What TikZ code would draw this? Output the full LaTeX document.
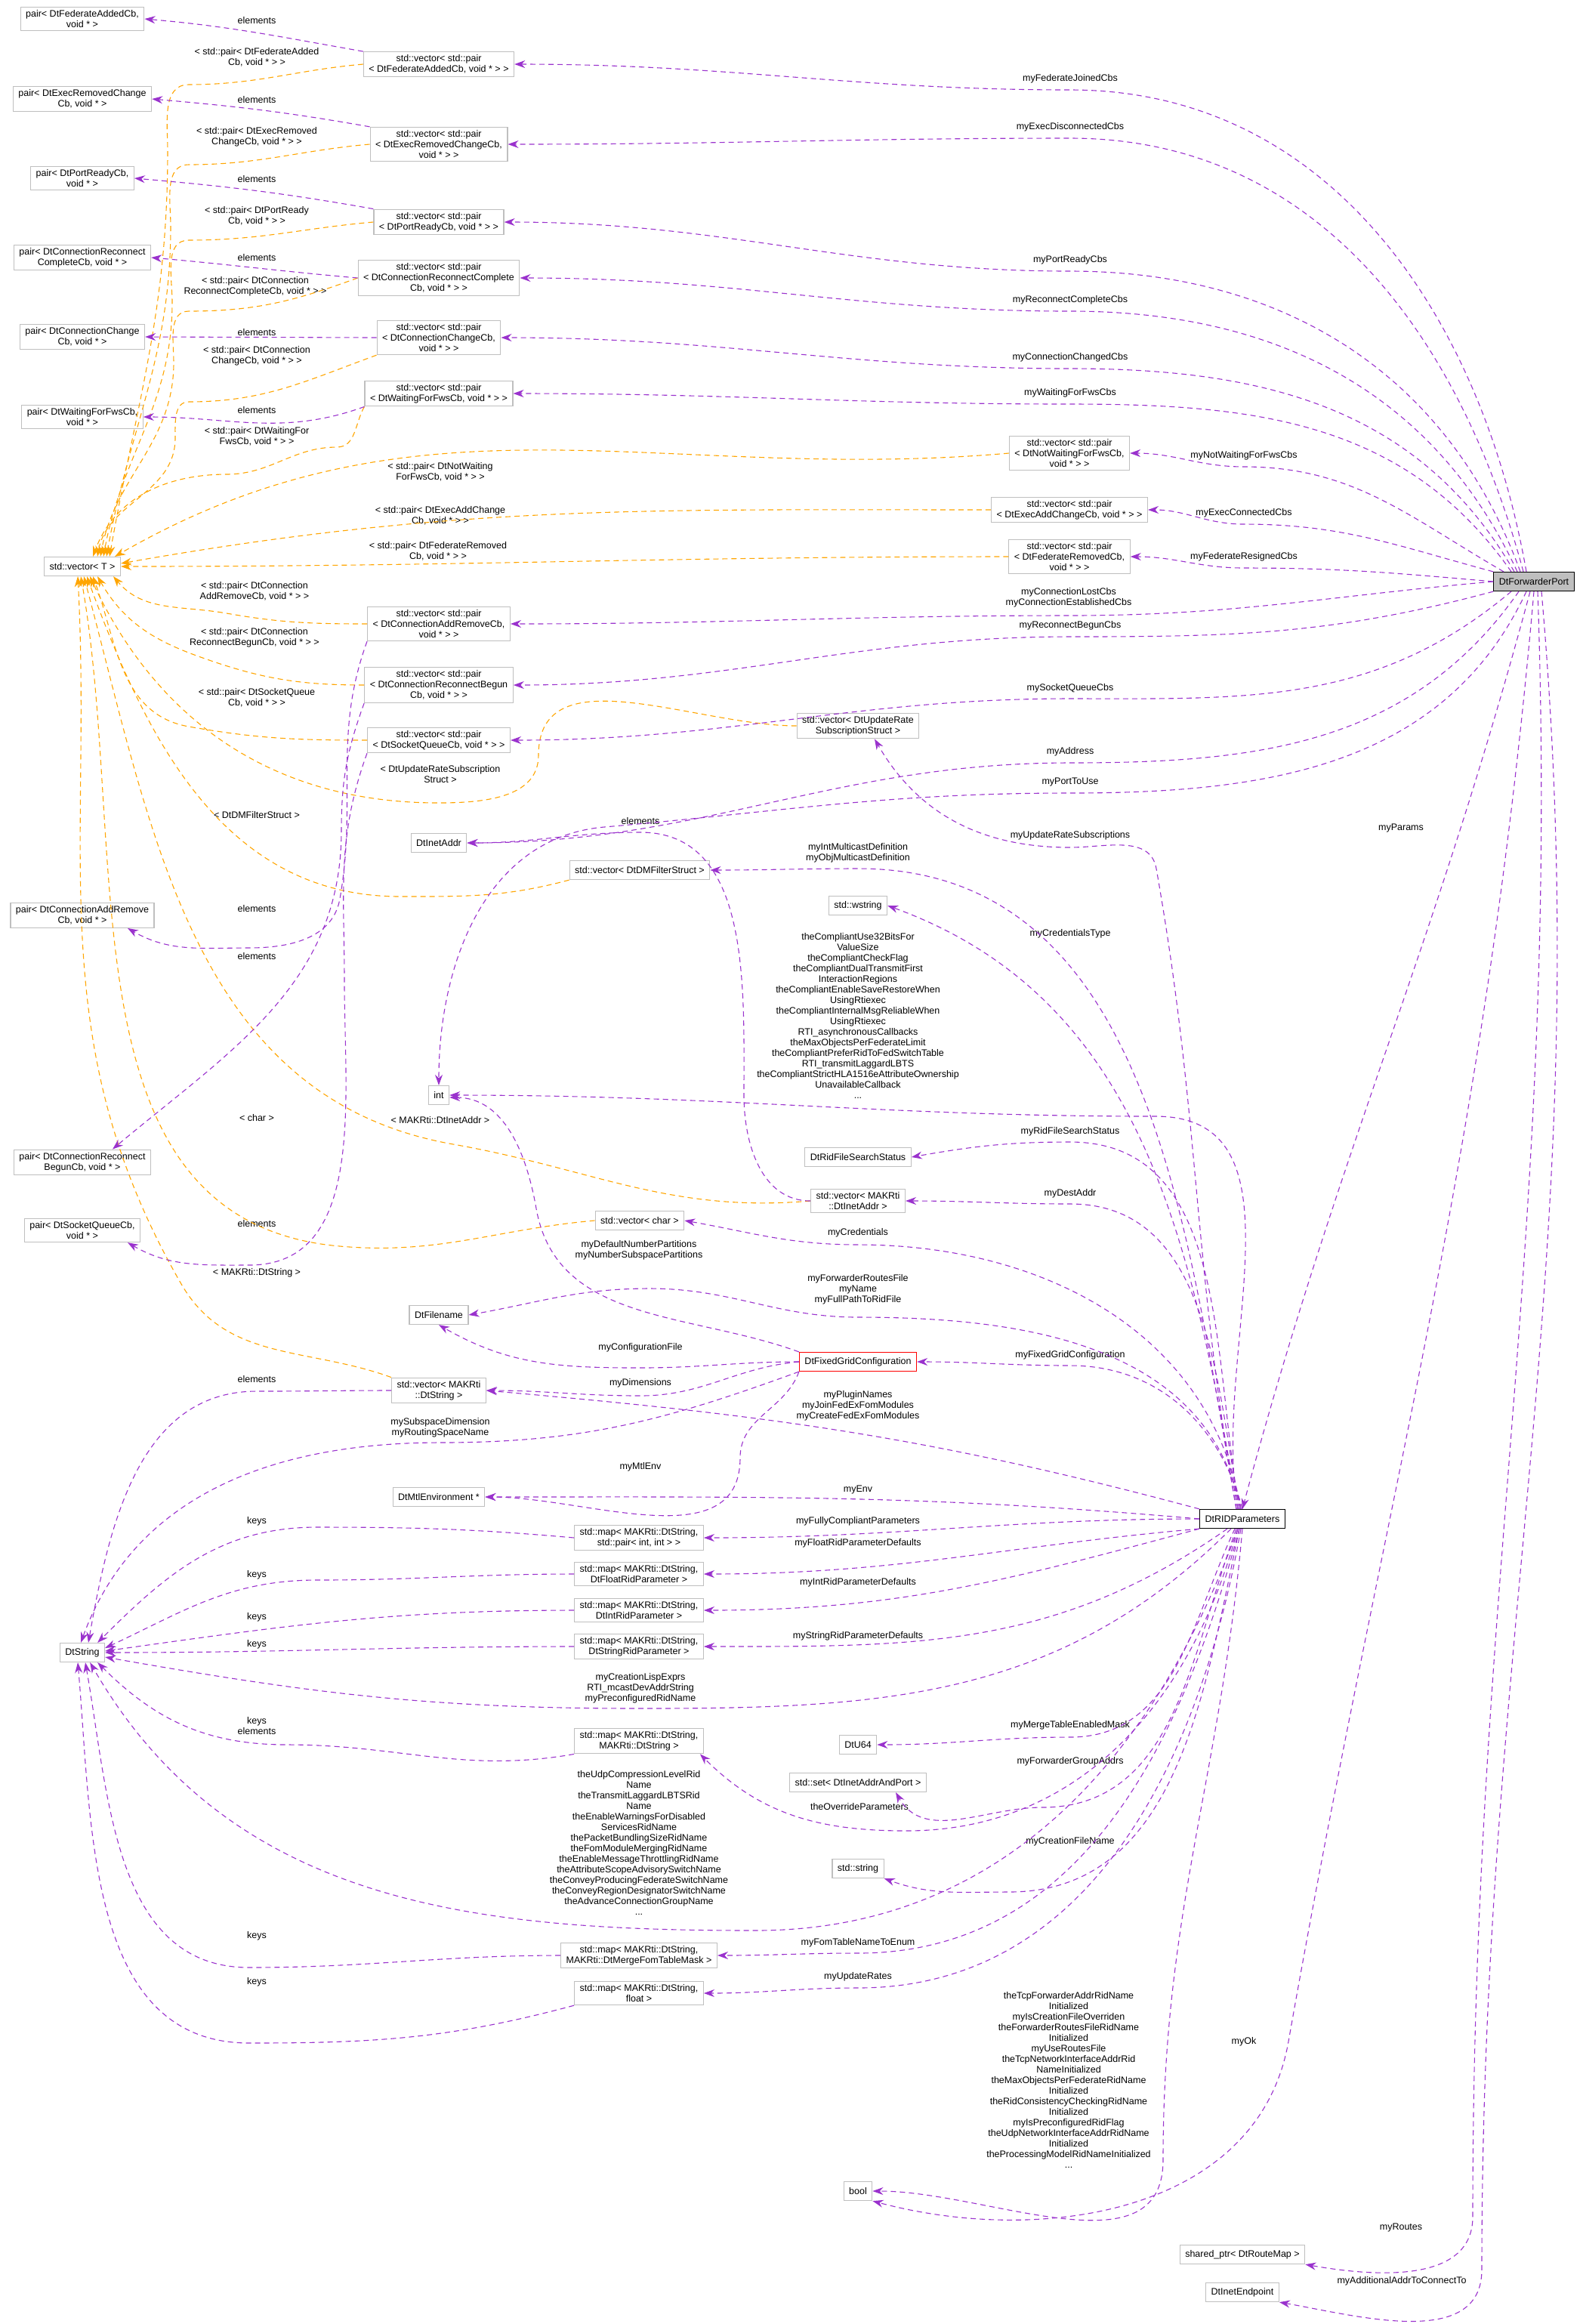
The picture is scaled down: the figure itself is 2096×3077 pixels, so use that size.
\documentclass[tikz,border=0pt]{standalone}
\usepackage{fontspec}
\setmainfont{Liberation Sans}
\usetikzlibrary{arrows.meta,calc}
\definecolor{purp}{HTML}{9A32CD}
\definecolor{orng}{HTML}{FFA500}
\definecolor{bgray}{HTML}{BFBFBF}
\newcommand\fs{\fontsize{3.125}{3.5}\selectfont}
\begin{document}
\begin{tikzpicture}[x=0.25pt,y=-0.25pt,
 box/.style={draw=bgray,fill=white,font=\fs,align=center,inner xsep=1.75pt,inner ysep=1pt,minimum height=6.25pt,line width=0.3pt},
 lbl/.style={font=\fs,align=center,inner sep=0.25pt},
 pe/.style={draw=purp,line width=0.275pt,dash pattern=on 1.75pt off 1.25pt,-{Stealth[length=3.5pt,width=2.5pt,fill=purp]}},
 oe/.style={draw=orng,line width=0.275pt,dash pattern=on 1.75pt off 1.25pt,-{Stealth[length=3.5pt,width=2.5pt,fill=orng]}}]
\useasboundingbox (0,0) rectangle (2096,3077);
% ---------- nodes
\node[box] (pFedAdded) at (109,25) {pair< DtFederateAddedCb,\\void * >};
\node[box] (vFedAdded) at (581,85) {std::vector< std::pair\\< DtFederateAddedCb, void * > >};
\node[box] (pExecRem) at (109,131) {pair< DtExecRemovedChange\\Cb, void * >};
\node[box] (vExecRem) at (581,191) {std::vector< std::pair\\< DtExecRemovedChangeCb,\\void * > >};
\node[box] (pPortReady) at (109,236) {pair< DtPortReadyCb,\\void * >};
\node[box] (vPortReady) at (581,294) {std::vector< std::pair\\< DtPortReadyCb, void * > >};
\node[box] (pConnRecComp) at (109,341) {pair< DtConnectionReconnect\\CompleteCb, void * >};
\node[box] (vConnRecComp) at (581,368) {std::vector< std::pair\\< DtConnectionReconnectComplete\\Cb, void * > >};
\node[box] (pConnChange) at (109,446) {pair< DtConnectionChange\\Cb, void * >};
\node[box] (vConnChange) at (581,447) {std::vector< std::pair\\< DtConnectionChangeCb,\\void * > >};
\node[box] (pWaiting) at (109,552) {pair< DtWaitingForFwsCb,\\void * >};
\node[box] (vWaiting) at (581,521) {std::vector< std::pair\\< DtWaitingForFwsCb, void * > >};
\node[box] (vNotWaiting) at (1416,600) {std::vector< std::pair\\< DtNotWaitingForFwsCb,\\void * > >};
\node[box] (vExecAdd) at (1416,675) {std::vector< std::pair\\< DtExecAddChangeCb, void * > >};
\node[box] (vFedRem) at (1416,737) {std::vector< std::pair\\< DtFederateRemovedCb,\\void * > >};
\node[box,draw=black,fill=bgray] (F) at (2031,770) {DtForwarderPort};
\node[box] (vectorT) at (109,750) {std::vector< T >};
\node[box] (vConnAddRem) at (581,826) {std::vector< std::pair\\< DtConnectionAddRemoveCb,\\void * > >};
\node[box] (vConnRecBegun) at (581,907) {std::vector< std::pair\\< DtConnectionReconnectBegun\\Cb, void * > >};
\node[box] (vSocketQ) at (581,980) {std::vector< std::pair\\< DtSocketQueueCb, void * > >};
\node[box] (vUpdateRate) at (1136,961) {std::vector< DtUpdateRate\\SubscriptionStruct >};
\node[box] (DtInetAddr) at (581,1116) {DtInetAddr};
\node[box] (vDMFilter) at (847,1152) {std::vector< DtDMFilterStruct >};
\node[box] (wstring) at (1136,1199) {std::wstring};
\node[box] (pConnAddRem) at (109,1212) {pair< DtConnectionAddRemove\\Cb, void * >};
\node[box] (int) at (581,1450) {int};
\node[box] (RidFileSearch) at (1136,1532) {DtRidFileSearchStatus};
\node[box] (vInetAddr) at (1136,1590) {std::vector< MAKRti\\::DtInetAddr >};
\node[box] (pConnRecBegun) at (109,1539) {pair< DtConnectionReconnect\\BegunCb, void * >};
\node[box] (vChar) at (847,1616) {std::vector< char >};
\node[box] (pSocketQ) at (109,1629) {pair< DtSocketQueueCb,\\void * >};
\node[box] (DtFilename) at (581,1741) {DtFilename};
\node[box,draw=red] (G) at (1136,1803) {DtFixedGridConfiguration};
\node[box] (vDtString) at (581,1841) {std::vector< MAKRti\\::DtString >};
\node[box] (DtMtlEnv) at (581,1982) {DtMtlEnvironment *};
\node[box] (map1) at (846,2036) {std::map< MAKRti::DtString,\\std::pair< int, int > >};
\node[box] (map2) at (846,2084) {std::map< MAKRti::DtString,\\DtFloatRidParameter >};
\node[box] (map3) at (846,2132) {std::map< MAKRti::DtString,\\DtIntRidParameter >};
\node[box] (map4) at (846,2180) {std::map< MAKRti::DtString,\\DtStringRidParameter >};
\node[box] (DtString) at (109,2188) {DtString};
\node[box,draw=black] (R) at (1645,2011) {DtRIDParameters};
\node[box] (map5) at (846,2305) {std::map< MAKRti::DtString,\\MAKRti::DtString >};
\node[box] (DtU64) at (1136,2310) {DtU64};
\node[box] (setInet) at (1136,2360) {std::set< DtInetAddrAndPort >};
\node[box] (stdstring) at (1136,2474) {std::string};
\node[box] (map6) at (846,2589) {std::map< MAKRti::DtString,\\MAKRti::DtMergeFomTableMask >};
\node[box] (map7) at (846,2639) {std::map< MAKRti::DtString,\\float >};
\node[box] (bool) at (1136,2901) {bool};
\node[box] (sharedPtr) at (1645,2985) {shared\_ptr< DtRouteMap >};
\node[box] (DtInetEndpoint) at (1645,3035) {DtInetEndpoint};

% ---------- labels
\node[lbl] (e1) at (340,27) {elements};
\node[lbl] (e2) at (340,132) {elements};
\node[lbl] (e3) at (340,237) {elements};
\node[lbl] (e4) at (340,341) {elements};
\node[lbl] (e5) at (340,440) {elements};
\node[lbl] (e6) at (340,543) {elements};
\node[lbl] (o1) at (340,76) {< std::pair< DtFederateAdded\\Cb, void * > >};
\node[lbl] (o2) at (340,181) {< std::pair< DtExecRemoved\\ChangeCb, void * > >};
\node[lbl] (o3) at (340,286) {< std::pair< DtPortReady\\Cb, void * > >};
\node[lbl] (o4) at (338,379) {< std::pair< DtConnection\\ReconnectCompleteCb, void * > >};
\node[lbl] (o5) at (340,471) {< std::pair< DtConnection\\ChangeCb, void * > >};
\node[lbl] (o6) at (340,578) {< std::pair< DtWaitingFor\\FwsCb, void * > >};
\node[lbl] (o7) at (583,625) {< std::pair< DtNotWaiting\\ForFwsCb, void * > >};
\node[lbl] (o8) at (583,683) {< std::pair< DtExecAddChange\\Cb, void * > >};
\node[lbl] (o9) at (580,730) {< std::pair< DtFederateRemoved\\Cb, void * > >};
\node[lbl] (o10) at (337,783) {< std::pair< DtConnection\\AddRemoveCb, void * > >};
\node[lbl] (o11) at (337,844) {< std::pair< DtConnection\\ReconnectBegunCb, void * > >};
\node[lbl] (o12) at (340,924) {< std::pair< DtSocketQueue\\Cb, void * > >};
\node[lbl] (o13) at (583,1025) {< DtUpdateRateSubscription\\Struct >};
\node[lbl] (o14) at (340,1079) {< DtDMFilterStruct >};
\node[lbl] (e7) at (848,1087) {elements};
\node[lbl] (e8) at (340,1203) {elements};
\node[lbl] (e9) at (340,1266) {elements};
\node[lbl] (o15) at (340,1480) {< char >};
\node[lbl] (o16) at (583,1483) {< MAKRti::DtInetAddr >};
\node[lbl] (e10) at (340,1620) {elements};
\node[lbl] (o17) at (340,1685) {< MAKRti::DtString >};
\node[lbl] (e11) at (340,1826) {elements};
\node[lbl] (k1) at (340,2014) {keys};
\node[lbl] (k2) at (340,2085) {keys};
\node[lbl] (k3) at (340,2141) {keys};
\node[lbl] (k4) at (340,2177) {keys};
\node[lbl] (k5) at (340,2285) {keys\\elements};
\node[lbl] (k6) at (340,2563) {keys};
\node[lbl] (k7) at (340,2624) {keys};
% forwarder labels
\node[lbl] (f1) at (1417,104) {myFederateJoinedCbs};
\node[lbl] (f2) at (1417,168) {myExecDisconnectedCbs};
\node[lbl] (f3) at (1417,344) {myPortReadyCbs};
\node[lbl] (f4) at (1417,397) {myReconnectCompleteCbs};
\node[lbl] (f5) at (1417,473) {myConnectionChangedCbs};
\node[lbl] (f6) at (1417,520) {myWaitingForFwsCbs};
\node[lbl] (f7) at (1647,603) {myNotWaitingForFwsCbs};
\node[lbl] (f8) at (1647,679) {myExecConnectedCbs};
\node[lbl] (f9) at (1647,737) {myFederateResignedCbs};
\node[lbl] (f10) at (1415,791) {myConnectionLostCbs\\myConnectionEstablishedCbs};
\node[lbl] (f11) at (1417,828) {myReconnectBegunCbs};
\node[lbl] (f12) at (1417,911) {mySocketQueueCbs};
\node[lbl] (f13) at (1417,995) {myAddress};
\node[lbl] (f14) at (1417,1035) {myPortToUse};
\node[lbl] (f15) at (1855,1096) {myParams};
\node[lbl] (f16) at (1647,2703) {myOk};
\node[lbl] (f17) at (1855,2949) {myRoutes};
\node[lbl] (f18) at (1856,3020) {myAdditionalAddrToConnectTo};
% rid labels
\node[lbl] (r1) at (1417,1106) {myUpdateRateSubscriptions};
\node[lbl] (r2) at (1136,1129) {myIntMulticastDefinition\\myObjMulticastDefinition};
\node[lbl] (r3) at (1417,1236) {myCredentialsType};
\node[lbl] (r4) at (1136,1345) {theCompliantUse32BitsFor\\ValueSize\\theCompliantCheckFlag\\theCompliantDualTransmitFirst\\InteractionRegions\\theCompliantEnableSaveRestoreWhen\\UsingRtiexec\\theCompliantInternalMsgReliableWhen\\UsingRtiexec\\RTI\_asynchronousCallbacks\\theMaxObjectsPerFederateLimit\\theCompliantPreferRidToFedSwitchTable\\RTI\_transmitLaggardLBTS\\theCompliantStrictHLA1516eAttributeOwnership\\UnavailableCallback\\...};
\node[lbl] (r5) at (1417,1498) {myRidFileSearchStatus};
\node[lbl] (r6) at (1417,1580) {myDestAddr};
\node[lbl] (r7) at (1136,1632) {myCredentials};
\node[lbl] (r8) at (1136,1707) {myForwarderRoutesFile\\myName\\myFullPathToRidFile};
\node[lbl] (r9) at (1417,1794) {myFixedGridConfiguration};
\node[lbl] (r10) at (1136,1861) {myPluginNames\\myJoinFedExFomModules\\myCreateFedExFomModules};
\node[lbl] (r11) at (1136,1972) {myEnv};
\node[lbl] (r12) at (1136,2014) {myFullyCompliantParameters};
\node[lbl] (r13) at (1136,2043) {myFloatRidParameterDefaults};
\node[lbl] (r14) at (1136,2095) {myIntRidParameterDefaults};
\node[lbl] (r15) at (1136,2166) {myStringRidParameterDefaults};
\node[lbl] (r16) at (848,2235) {myCreationLispExprs\\RTI\_mcastDevAddrString\\myPreconfiguredRidName};
\node[lbl] (r17) at (1417,2284) {myMergeTableEnabledMask};
\node[lbl] (r18) at (1417,2332) {myForwarderGroupAddrs};
\node[lbl] (r19) at (1138,2392) {theOverrideParameters};
\node[lbl] (r20) at (1417,2438) {myCreationFileName};
\node[lbl] (r21) at (846,2440) {theUdpCompressionLevelRid\\Name\\theTransmitLaggardLBTSRid\\Name\\theEnableWarningsForDisabled\\ServicesRidName\\thePacketBundlingSizeRidName\\theFomModuleMergingRidName\\theEnableMessageThrottlingRidName\\theAttributeScopeAdvisorySwitchName\\theConveyProducingFederateSwitchName\\theConveyRegionDesignatorSwitchName\\theAdvanceConnectionGroupName\\...};
\node[lbl] (r22) at (1136,2572) {myFomTableNameToEnum};
\node[lbl] (r23) at (1136,2617) {myUpdateRates};
\node[lbl] (r24) at (1415,2754) {theTcpForwarderAddrRidName\\Initialized\\myIsCreationFileOverriden\\theForwarderRoutesFileRidName\\Initialized\\myUseRoutesFile\\theTcpNetworkInterfaceAddrRid\\NameInitialized\\theMaxObjectsPerFederateRidName\\Initialized\\theRidConsistencyCheckingRidName\\Initialized\\myIsPreconfiguredRidFlag\\theUdpNetworkInterfaceAddrRidName\\Initialized\\theProcessingModelRidNameInitialized\\...};
% grid labels
\node[lbl] (g1) at (848,1784) {myConfigurationFile};
\node[lbl] (g2) at (848,1831) {myDimensions};
\node[lbl] (g3) at (583,1890) {mySubspaceDimension\\myRoutingSpaceName};
\node[lbl] (g4) at (848,1942) {myMtlEnv};
\node[lbl] (g5) at (846,1655) {myDefaultNumberPartitions\\myNumberSubspacePartitions};

% ---------- orange template edges
\draw[oe] (vFedAdded.west) to[out=185,in=0] (250,112) to[out=180,in=90] (222,200) to[out=270,in=80] ($(vectorT.north)+(36,0)$);
\draw[oe] (vExecRem.west) to[out=185,in=0] (250,218) to[out=180,in=90] (226,300) to[out=270,in=80] ($(vectorT.north)+(32,0)$);
\draw[oe] (vPortReady.west) to[out=185,in=0] (250,318) to[out=180,in=90] (228,400) to[out=270,in=80] ($(vectorT.north)+(28,0)$);
\draw[oe] (vConnRecComp.west) to[out=200,in=0] (250,412) to[out=180,in=90] (230,480) to[out=270,in=80] ($(vectorT.north)+(24,0)$);
\draw[oe] (vConnChange.south west) to[out=200,in=0] (250,532) to[out=180,in=90] (232,580) to[out=270,in=80] ($(vectorT.north)+(20,0)$);
\draw[oe] (vWaiting.south west) to[out=240,in=0] (446,592) to[out=180,in=0] (300,628) to[out=180,in=70] ($(vectorT.north)+(14,0)$);
\draw[oe] (vNotWaiting.west) to[out=185,in=30] ($(vectorT.north east)+(-8,0)$);
\draw[oe] (vExecAdd.west) to[out=180,in=10] ($(vectorT.east)+(0,-4)$);
\draw[oe] (vFedRem.west) to[out=180,in=0] (vectorT.east);
\draw[oe] (vConnAddRem.west) to[out=180,in=-10] (300,812) to[out=170,in=-50] ($(vectorT.south east)+(-10,0)$);
\draw[oe] (vConnRecBegun.west) to[out=180,in=-20] (260,868) to[out=160,in=-60] ($(vectorT.south)+(20,0)$);
\draw[oe] (vSocketQ.west) to[out=180,in=-10] (250,962) to[out=170,in=-70] ($(vectorT.south)+(14,0)$);
\draw[oe] (vUpdateRate.west) to[out=180,in=90] (713,1000) to[out=270,in=0] (580,1063) to[out=180,in=-65] ($(vectorT.south)+(10,0)$);
\draw[oe] (vDMFilter.south west) to[out=195,in=0] (530,1187) to[out=180,in=-70] ($(vectorT.south)+(6,0)$);
\draw[oe] (vInetAddr.west) to[out=185,in=-10] (600,1515) to[out=170,in=-75] ($(vectorT.south)+(2,0)$);
\draw[oe] (vChar.west) to[out=185,in=-5] (450,1650) to[out=175,in=-80] ($(vectorT.south)+(-2,0)$);
\draw[oe] (vDtString.north west) to[out=160,in=-60] (240,1700) to[out=120,in=-87] ($(vectorT.south)+(-6,0)$);

% ---------- elements edges
\draw[pe] (vFedAdded.north west) to[out=170,in=-5] (pFedAdded.east);
\draw[pe] (vExecRem.north west) to[out=170,in=-5] (pExecRem.east);
\draw[pe] (vPortReady.north west) to[out=170,in=-5] (pPortReady.east);
\draw[pe] (vConnRecComp.west) to[out=175,in=-5] (pConnRecComp.east);
\draw[pe] (vConnChange.west) -- (pConnChange.east);
\draw[pe] (vWaiting.south west) to[out=200,in=0] (pWaiting.east);
\draw[pe] (vConnAddRem.south west) to[out=250,in=80] (450,1190) to[out=260,in=0] (330,1255) to[out=180,in=-30] ($(pConnAddRem.south)+(60,0)$);
\draw[pe] (vConnRecBegun.south west) to[out=250,in=90] (452,1100) to[out=270,in=40] ($(pConnRecBegun.north)+(40,0)$);
\draw[pe] (vSocketQ.south west) to[out=250,in=90] (456,1300) to[out=270,in=0] (330,1675) to[out=180,in=-30] ($(pSocketQ.south)+(60,0)$);
\draw[pe] (vInetAddr.west) to[out=180,in=270] (985,1450) to[out=90,in=0] (848,1102) to[out=180,in=0] (DtInetAddr.east);
\draw[pe] (vDtString.west) to[out=180,in=0] (340,1842) to[out=180,in=80] ($(DtString.north)+(8,0)$);
\draw[pe] (map1.west) to[out=175,in=0] (420,2022) to[out=180,in=45] ($(DtString.north east)+(-10,0)$);
\draw[pe] (map2.west) to[out=180,in=0] (420,2092) to[out=180,in=25] ($(DtString.east)+(0,-6)$);
\draw[pe] (map3.west) to[out=180,in=8] ($(DtString.east)+(0,-2)$);
\draw[pe] (map4.west) to[out=180,in=0] (DtString.east);
\draw[pe] (map5.south west) to[out=190,in=0] (380,2310) to[out=180,in=-45] ($(DtString.south east)+(-10,0)$);
\draw[pe] (map6.west) to[out=180,in=0] (330,2605) to[out=180,in=-80] ($(DtString.south)+(4,0)$);
\draw[pe] (map7.south west) to[out=195,in=0] (330,2705) to[out=180,in=-85] ($(DtString.south)+(-6,0)$);

% ---------- DtForwarderPort edges
\draw[pe] ($(F.north)+(-10,0)$) to[out=100,in=0] (1417,119) to[out=180,in=0] (vFedAdded.east);
\draw[pe] ($(F.north)+(-14,0)$) to[out=105,in=0] (1417,183) to[out=180,in=0] (vExecRem.east);
\draw[pe] ($(F.north)+(-18,0)$) to[out=110,in=0] (1417,359) to[out=180,in=0] (vPortReady.east);
\draw[pe] ($(F.north)+(-22,0)$) to[out=115,in=0] (1417,412) to[out=180,in=0] (vConnRecComp.east);
\draw[pe] ($(F.north)+(-26,0)$) to[out=120,in=0] (1417,488) to[out=180,in=0] (vConnChange.east);
\draw[pe] ($(F.north)+(-30,0)$) to[out=125,in=0] (1417,535) to[out=180,in=0] (vWaiting.east);
\draw[pe] ($(F.north)+(-40,0)$) to[out=150,in=0] (1647,618) to[out=180,in=0] (vNotWaiting.east);
\draw[pe] (F.north west) to[out=165,in=0] (1647,694) to[out=180,in=0] (vExecAdd.east);
\draw[pe] (F.west) to[out=175,in=0] (1647,752) to[out=180,in=0] (vFedRem.east);
\draw[pe] (F.west) to[out=185,in=0] (1415,815) to[out=180,in=0] (vConnAddRem.east);
\draw[pe] (F.south west) to[out=195,in=0] (1417,843) to[out=180,in=0] (vConnRecBegun.east);
\draw[pe] ($(F.south)+(-30,0)$) to[out=220,in=0] (1417,925) to[out=180,in=0] (vSocketQ.east);
\draw[pe] ($(F.south)+(-20,0)$) to[out=235,in=0] (1417,1010) to[out=180,in=0] (DtInetAddr.east);
\draw[pe] ($(F.south)+(-10,0)$) to[out=245,in=0] (1417,1050) to[out=180,in=5] (800,1095) to[out=185,in=90] (int.north);
\draw[pe] ($(F.south)+(-5,0)$) to[out=255,in=75] (R.north);
\draw[pe] ($(F.south)+(0,0)$) to[out=265,in=80] (1706,2703) to[out=260,in=-15] (bool.south east);
\draw[pe] ($(F.south)+(5,0)$) to[out=272,in=90] (1950,2935) to[out=270,in=-10] (sharedPtr.south east);
\draw[pe] ($(F.south)+(10,0)$) to[out=275,in=90] (1962,3005) to[out=270,in=-10] (DtInetEndpoint.south east);

% ---------- DtRIDParameters edges
\draw[pe] ($(R.north)+(-8,0)$) to[out=100,in=-80] (1531,1150) to[out=100,in=0] (1417,1122) to[out=180,in=-60] ($(vUpdateRate.south)+(22,0)$);
\draw[pe] ($(R.north)+(-8,0)$) to[out=100,in=0] (1136,1150) to[out=180,in=0] (vDMFilter.east);
\draw[pe] ($(R.north)+(-6,0)$) to[out=100,in=-20] (wstring.east);
\draw[pe] ($(R.north)+(-6,0)$) to[out=100,in=0] (1530,1478) to[out=180,in=0] (int.east);
\draw[pe] ($(R.north)+(-4,0)$) to[out=100,in=0] (1417,1512) to[out=180,in=10] (RidFileSearch.east);
\draw[pe] ($(R.north)+(-4,0)$) to[out=100,in=0] (1417,1594) to[out=180,in=0] (vInetAddr.east);
\draw[pe] ($(R.north)+(-2,0)$) to[out=100,in=0] (1136,1648) to[out=180,in=-10] (vChar.east);
\draw[pe] ($(R.north)+(-2,0)$) to[out=102,in=0] (1136,1744) to[out=180,in=0] (860,1706) to[out=180,in=10] (DtFilename.east);
\draw[pe] ($(R.north)+(0,0)$) to[out=105,in=0] (1417,1808) to[out=180,in=0] (G.east);
\draw[pe] (R.north west) to[out=165,in=-5] (vDtString.east);
\draw[pe] (R.west) to[out=175,in=0] (DtMtlEnv.east);
\draw[pe] (R.west) to[out=180,in=0] (map1.east);
\draw[pe] (R.south west) to[out=185,in=0] (map2.east);
\draw[pe] (R.south west) to[out=195,in=0] (map3.east);
\draw[pe] ($(R.south)+(-20,0)$) to[out=215,in=0] (map4.east);
\draw[pe] ($(R.south)+(-15,0)$) to[out=225,in=0] (848,2262) to[out=180,in=-10] ($(DtString.east)+(0,6)$);
\draw[pe] ($(R.south)+(-10,0)$) to[out=245,in=0] (1417,2300) to[out=180,in=0] (DtU64.east);
\draw[pe] ($(R.south)+(-8,0)$) to[out=250,in=0] (1380,2393) to[out=180,in=-60] ($(setInet.south)+(50,0)$);
\draw[pe] ($(R.south)+(-6,0)$) to[out=255,in=0] (1200,2424) to[out=180,in=-45] ($(map5.south east)+(-5,0)$);
\draw[pe] ($(R.south)+(-4,0)$) to[out=258,in=0] (1336,2505) to[out=180,in=-20] (stdstring.south east);
\draw[pe] ($(R.south)+(-6,0)$) to[out=250,in=0] (1000,2556) to[out=180,in=-60] ($(DtString.south east)+(-20,0)$);
\draw[pe] ($(R.south)+(-4,0)$) to[out=255,in=0] (1136,2586) to[out=180,in=0] (map6.east);
\draw[pe] ($(R.south)+(-2,0)$) to[out=260,in=0] (1136,2632) to[out=180,in=0] (map7.east);
\draw[pe] ($(R.south)+(0,0)$) to[out=265,in=90] (1540,2860) to[out=270,in=0] (bool.east);

% ---------- DtFixedGridConfiguration edges
\draw[pe] (G.west) to[out=180,in=0] (848,1811) to[out=180,in=-30] (DtFilename.south);
\draw[pe] (G.west) to[out=185,in=0] (848,1848) to[out=180,in=0] (vDtString.east);
\draw[pe] (G.south west) to[out=200,in=0] (583,1910) to[out=180,in=70] ($(DtString.north)+(-2,0)$);
\draw[pe] (G.south west) to[out=250,in=90] (980,1930) to[out=270,in=0] (DtMtlEnv.east);
\draw[pe] (G.north west) to[out=160,in=-80] (710,1600) to[out=100,in=0] ($(int.east)+(0,3)$);
\end{tikzpicture}
\end{document}
